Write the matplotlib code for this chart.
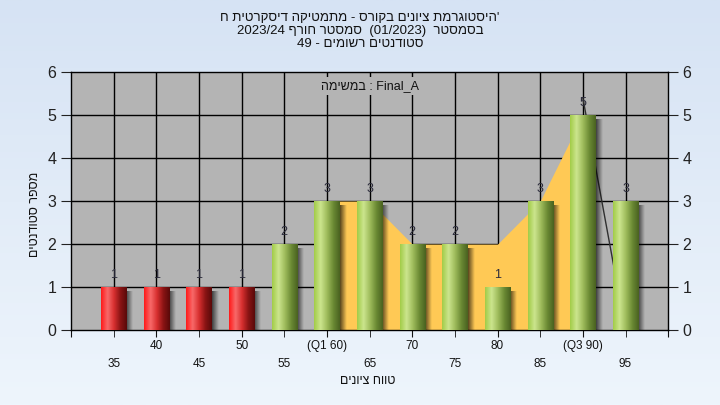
import re

import matplotlib
matplotlib.use("Agg")
import matplotlib.pyplot as plt
import numpy as np
from matplotlib.colors import LinearSegmentedColormap, to_rgb

plt.rcParams["font.family"] = ["Liberation Sans", "DejaVu Sans"]

# data
categories = [35, 40, 45, 50, 55, 60, 65, 70, 75, 80, 85, 90, 95]
counts = [1, 1, 1, 1, 2, 3, 3, 2, 2, 1, 3, 5, 3]
fail_limit = 55

area_x = [60, 65, 70, 75, 80, 85, 90]
area_y = [3, 3, 2, 2, 2, 3, 5]

trend_x = [90, 95]
trend_y = [5.4, 0]

upper_ticks = [30, 40, 50, 60, 70, 80, 90, 100]
upper_labels = ["", "40", "50", "(Q1 60)", "70", "80", "(Q3 90)", ""]
lower_ticks = [35, 45, 55, 65, 75, 85, 95]
lower_labels = ["35", "45", "55", "65", "75", "85", "95"]

title_lines = [
    "'היסטוגרמת ציונים בקורס - מתמטיקה דיסקרטית ח",
    "בסמסטר  (01/2023)  סמסטר חורף 2023/24",
    "סטודנטים רשומים - 49",
]
task_title = "Final_A : במשימה"
x_title = "טווח ציונים"
y_title = "מספר סטודנטים"


def rtl(text):
    # logical -> visual order for a right-to-left line (matplotlib has no bidi)
    rev = text[::-1]
    rev = re.sub(r"[0-9A-Za-z_/.]+", lambda m: m.group(0)[::-1], rev)
    return rev.translate(str.maketrans("()", ")("))


def draw_bar(ax, x, h, width, cmap):
    left, right = x - width / 2, x + width / 2
    # soft shadow on the right side
    shade = np.zeros((1, 32, 4))
    shade[0, :, 3] = np.linspace(0.75, 0.0, 32)
    ax.imshow(shade, extent=[right - 0.1, right + 0.75, -0.06, h - 0.1],
              aspect="auto", zorder=2.5, interpolation="bilinear")
    grad = np.linspace(0, 1, 64).reshape(1, -1)
    ax.imshow(grad, extent=[left, right, 0, h], cmap=cmap, aspect="auto",
              zorder=3, interpolation="bilinear")


def main():
    fig = plt.figure(figsize=(7.2, 4.05), dpi=100)

    # light blue background gradient
    bg = fig.add_axes([0, 0, 1, 1], zorder=-10)
    top, bottom = np.array(to_rgb("#d6e3f4")), np.array(to_rgb("#eef5fc"))
    t = np.linspace(0, 1, 256).reshape(-1, 1, 1)
    bg.imshow(top + (bottom - top) * t, aspect="auto", extent=[0, 1, 0, 1])
    bg.axis("off")

    ax = fig.add_axes([0.0986, 0.185, 0.8294, 0.637])
    ax.set_facecolor("#b4b4b4")

    red = LinearSegmentedColormap.from_list(
        "red", ["#ff1a1a", "#f86a6a", "#d83030", "#8a1414", "#5a0a0a"])
    green = LinearSegmentedColormap.from_list(
        "green", ["#a2cc48", "#cce58e", "#9fbc5c", "#6b8a34", "#4a6220"])

    ax.fill_between(area_x, area_y, 0, color="#ffc955", zorder=2, linewidth=0)
    ax.plot(trend_x, trend_y, color="#303030", lw=1, zorder=2.2)

    width = 2.95
    for x, h in zip(categories, counts):
        draw_bar(ax, x, h, width, red if x < fail_limit else green)
        ax.text(x, h + 0.28, str(h), ha="center", va="center", fontsize=9,
                color="#2b2b3b", zorder=5)

    ax.set_xlim(30, 100)
    ax.set_ylim(0, 6)

    ax.set_xticks(upper_ticks)
    ax.set_xticklabels(upper_labels)
    ax.set_xticks(lower_ticks, minor=True)
    ax.set_xticklabels(lower_labels, minor=True)
    ax.tick_params(axis="x", which="major", direction="out", length=5, pad=2,
                   labelsize=8.5, colors="#111")
    ax.tick_params(axis="x", which="minor", direction="out", length=5, pad=15,
                   labelsize=8.5, colors="#111")

    ax.set_yticks(range(0, 7))
    ax.tick_params(axis="y", direction="out", length=7, labelsize=11.5,
                   right=True, labelright=True, colors="#222")

    # grid on every category and every count
    for x in categories:
        ax.axvline(x, color="black", lw=1, zorder=1)
    for y in range(1, 6):
        ax.axhline(y, color="black", lw=1, zorder=1)
    for s in ax.spines.values():
        s.set_color("black")
        s.set_linewidth(1)

    ax.text(0.5, 0.946, rtl(task_title), transform=ax.transAxes, ha="center",
            va="center", fontsize=9, color="#111", zorder=6,
            bbox=dict(facecolor="#b4b4b4", edgecolor="none", pad=2))

    fig.text(0.51, 0.06, rtl(x_title), ha="center", va="center", fontsize=9,
             color="#111")
    fig.text(0.049, 0.47, rtl(y_title), ha="center", va="center", fontsize=9,
             rotation=90, color="#111")

    for i, line in enumerate(title_lines):
        fig.text(0.5, 1 - (18 + 13 * i) / 405, rtl(line), ha="center",
                 va="center", fontsize=9.5, color="#111")

    fig.savefig("out.png", dpi=100)


if __name__ == "__main__":
    main()
